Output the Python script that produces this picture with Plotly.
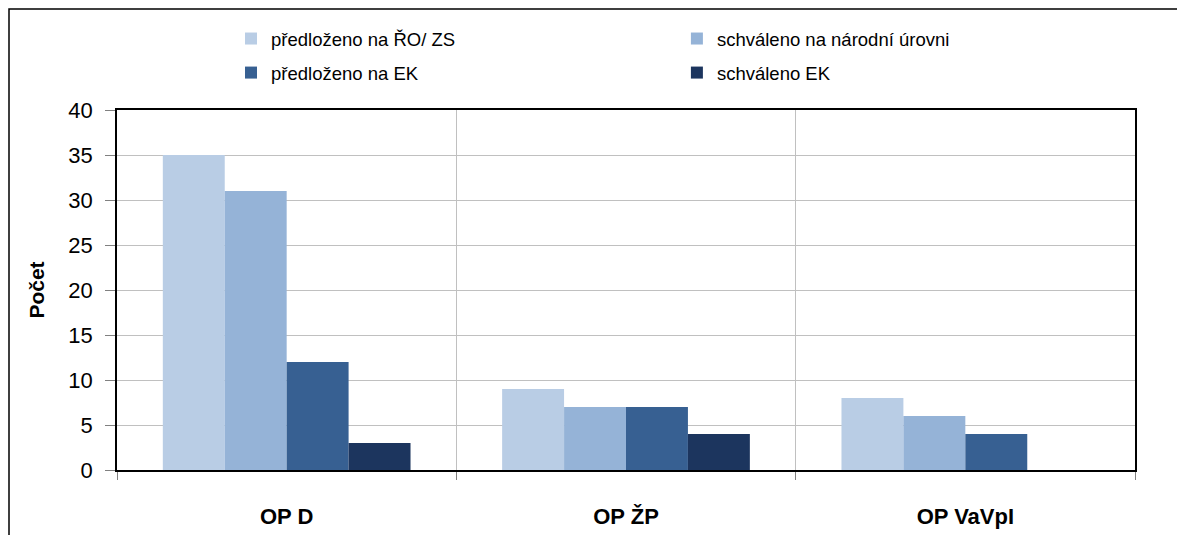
import plotly.graph_objects as go

categories = ["OP D", "OP ŽP", "OP VaVpI"]
series_names = ["předloženo na ŘO/ ZS", "schváleno na národní úrovni", "předloženo na EK", "schváleno EK"]
values_predlozeno_ro = [35, 9, 8]
values_schvaleno_narodni = [31, 7, 6]
values_predlozeno_ek = [12, 7, 4]
values_schvaleno_ek = [3, 4, 0]
colors = ["#B9CDE5", "#95B3D7", "#376092", "#1C355E"]
legend_ids = ["legend", "legend2", "legend", "legend2"]
y_ticks = [0, 5, 10, 15, 20, 25, 30, 35, 40]

all_values = [values_predlozeno_ro, values_schvaleno_narodni, values_predlozeno_ek, values_schvaleno_ek]

FONT = "Liberation Sans, Arial, sans-serif"

fig = go.Figure()
for i, (name, vals, col, lg) in enumerate(zip(series_names, all_values, colors, legend_ids)):
    fig.add_trace(go.Bar(x=categories, y=vals, name=name, legend=lg, legendgroup=f"g{i}",
                         marker=dict(color=col, line=dict(width=0))))

legend_common = dict(orientation="v", yanchor="top", y=1.25, xanchor="left",
                     font=dict(size=18.5, family=FONT, color="black"),
                     itemwidth=30, tracegroupgap=7, bgcolor="rgba(0,0,0,0)",
                     traceorder="grouped")

W, H = 1177, 527
ML, MT, PW, PH = 109, 102, 1018, 360

fig.update_layout(
    width=W, height=H,
    margin=dict(l=ML, r=W - ML - PW, t=MT, b=H - MT - PH, autoexpand=False),
    paper_bgcolor="white", plot_bgcolor="white",
    barmode="group", bargap=0.27, bargroupgap=0,
    font=dict(family=FONT, size=22, color="black"),
    legend=dict(x=0.112, **legend_common),
    legend2=dict(x=0.55, **legend_common),
    showlegend=True,
)
fig.update_xaxes(
    type="category", tickson="boundaries", ticks="outside", ticklen=8, tickcolor="#808080",
    showgrid=True, gridcolor="#C0C0C0", gridwidth=1,
    showline=True, linecolor="black", linewidth=1.5, mirror=True,
    tickfont=dict(size=22, family=FONT, color="black", weight="bold"),
    ticklabelstandoff=26,
)
fig.update_yaxes(
    range=[0, 40], tickvals=y_ticks, ticks="outside", ticklen=10, tickcolor="#808080",
    showgrid=True, gridcolor="#C0C0C0", gridwidth=1,
    showline=True, linecolor="black", linewidth=1.5, mirror=True,
    tickfont=dict(size=22, family=FONT, color="black"),
    ticklabelstandoff=8,
    title=dict(text="<b>Počet</b>", font=dict(size=21, family=FONT), standoff=18),
    zeroline=False,
)
# outer chart border (cropped on right/bottom)
fig.add_shape(type="rect", xref="paper", yref="paper",
              x0=(1 - ML) / PW, x1=1.2, y0=-0.4, y1=(PH + MT - 1) / PH,
              line=dict(color="black", width=1.5), fillcolor="rgba(0,0,0,0)", layer="below")

fig.write_html("out.html")
